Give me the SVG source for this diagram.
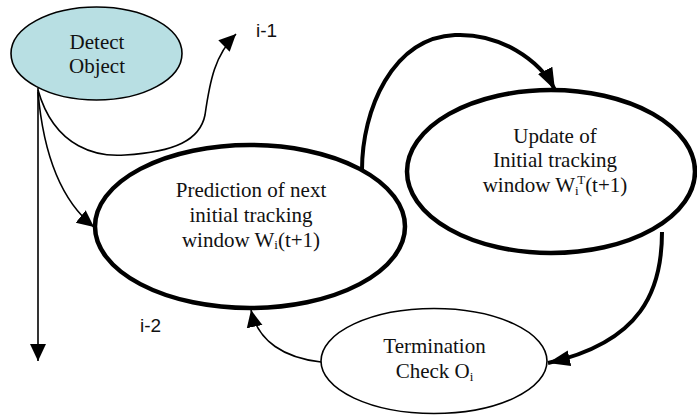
<svg xmlns="http://www.w3.org/2000/svg" width="697" height="417" viewBox="0 0 697 417">
  <style>
    .lbl { font-family: "Liberation Serif", "Times New Roman", serif; font-size: 21px; fill: #111; text-anchor: middle; }
    .sub { font-size: 13px; }
    .tag { font-family: "Liberation Sans", Arial, sans-serif; font-size: 19px; fill: #111; }
    .thin { fill: none; stroke: #000; stroke-width: 1.6; }
    .thick { fill: none; stroke: #000; stroke-width: 4.5; }
    .edge { fill: none; stroke: #000; }
  </style>
  <defs>
    <marker id="headThin" markerUnits="userSpaceOnUse" markerWidth="18" markerHeight="18" viewBox="0 0 18 18" refX="17" refY="9" orient="auto">
      <path d="M0,1 L17,9 L0,17 Z" fill="#000"/>
    </marker>
    <marker id="headThick" markerUnits="userSpaceOnUse" markerWidth="24" markerHeight="20" viewBox="0 0 24 20" refX="22" refY="10" orient="auto">
      <path d="M0,2 L22,10 L0,18 Z" fill="#000"/>
    </marker>
  </defs>

  <rect width="697" height="417" fill="#fff"/>

  <!-- connectors -->
  <g id="connectors">
    <path class="edge" stroke-width="1.6" d="M38,88 L38,361" marker-end="url(#headThin)"/>
    <path class="edge" stroke-width="1.6" d="M38,90 C 55,150 100,157 125,155 C 175,152 200,140 205,115 C 210,80 215,55 236,34" marker-end="url(#headThin)"/>
    <path class="edge" stroke-width="1.6" d="M38,92 C 43,150 60,200 94,227" marker-end="url(#headThin)"/>
    <path class="edge" stroke-width="4" d="M362,170 C 362,110 392,38 455,35 C 500,33 540,60 555,90" marker-end="url(#headThick)"/>
    <path class="edge" stroke-width="4" d="M662,232 C 662,290 642,342 548,363" marker-end="url(#headThick)"/>
    <path class="edge" stroke-width="1.6" d="M321,362 C 285,358 258,342 251,310" marker-end="url(#headThin)"/>
  </g>

  <!-- Detect Object -->
  <g id="node-detect">
    <ellipse cx="96.5" cy="53.5" rx="85.5" ry="46.5" fill="#b8dfe3" stroke="#000" stroke-width="1.6"/>
    <text class="lbl" x="97" y="49">Detect</text>
    <text class="lbl" x="97" y="73">Object</text>
  </g>

  <!-- Prediction of next initial tracking window -->
  <g id="node-prediction">
    <ellipse class="thick" cx="250" cy="226.5" rx="155" ry="81.5" fill="#fff"/>
    <text class="lbl" x="251" y="197">Prediction of next</text>
    <text class="lbl" x="251" y="222">initial tracking</text>
    <text class="lbl" x="251" y="247">window W<tspan class="sub" dy="2">i</tspan><tspan dy="-2">(t+1)</tspan></text>
  </g>

  <!-- Update of initial tracking window: W with stacked sub/superscript -->
  <g id="node-update">
    <ellipse class="thick" cx="551" cy="171.5" rx="144" ry="81.5" fill="#fff"/>
    <text class="lbl" x="555" y="143">Update of</text>
    <text class="lbl" x="555" y="167">Initial tracking</text>
    <text class="lbl" x="555" y="192">window W<tspan class="sub" dy="3">i</tspan><tspan class="sub" dx="-1.5" dy="-11">T</tspan><tspan dy="8">(t+1)</tspan></text>
  </g>

  <!-- Termination check -->
  <g id="node-termination">
    <ellipse class="thin" cx="434" cy="361" rx="113" ry="52.5" fill="#fff"/>
    <text class="lbl" x="434.5" y="353">Termination</text>
    <text class="lbl" x="434.5" y="378">Check O<tspan class="sub" dy="3">i</tspan></text>
  </g>

  <!-- loop index labels -->
  <g id="labels">
    <text class="tag" x="256" y="37">i-1</text>
    <text class="tag" x="140" y="332">i-2</text>
  </g>
</svg>
